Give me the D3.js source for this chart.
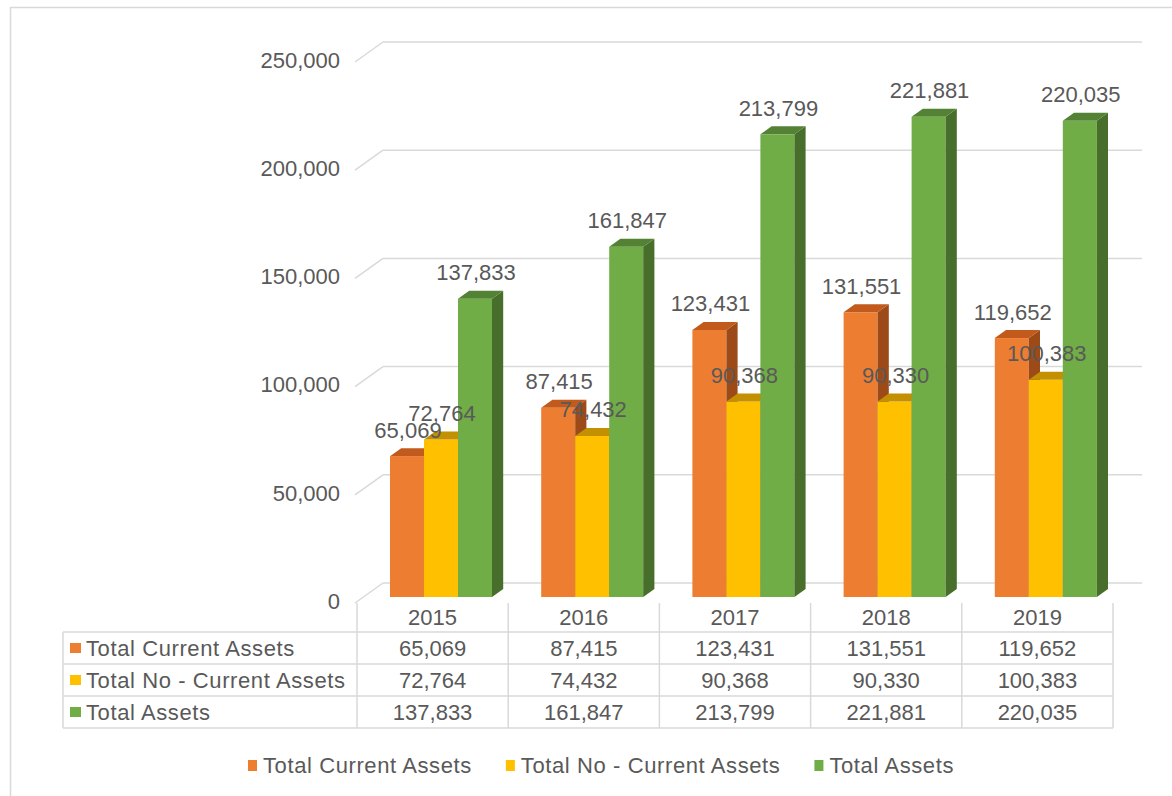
<!DOCTYPE html>
<html>
<head>
<meta charset="utf-8">
<script src="https://cdn.jsdelivr.net/npm/d3@7"></script>
<style>
  body { margin: 0; background: #fff; }
  svg text { font-family: "Liberation Sans", Arial, sans-serif; fill: #595959; }
  .name { letter-spacing: 0.6px; }
</style>
</head>
<body>
<svg id="chart"></svg>
<script>
var years = ["2015", "2016", "2017", "2018", "2019"];
var seriesNames = ["Total Current Assets", "Total No - Current Assets", "Total Assets"];
var currentAssets = [65069, 87415, 123431, 131551, 119652];
var nonCurrentAssets = [72764, 74432, 90368, 90330, 100383];
var totalAssets = [137833, 161847, 213799, 221881, 220035];
var yTicks = [0, 50000, 100000, 150000, 200000, 250000];

var seriesValues = [currentAssets, nonCurrentAssets, totalAssets];
// front, top, side
var colors = [
  ["#ED7D31", "#C25A1C", "#9C4A18"],
  ["#FFC000", "#C29000", "#A67B00"],
  ["#70AD47", "#548235", "#476E2B"]
];

var W = 1172, H = 796;
var svg = d3.select("#chart").attr("width", W).attr("height", H);

// outer frame
svg.append("rect")
  .attr("x", 10.5).attr("y", 7.5)
  .attr("width", W + 20).attr("height", H + 20)
  .attr("fill", "none").attr("stroke", "#d9d9d9").attr("stroke-width", 1.5);

var x0 = 357, x1 = 1113,        // front plane, category columns
    DX = 28, DY = -20,          // depth of the 3d box
    depthFront = 0.3, depthBar = 0.4;

var x = d3.scaleBand().domain(years).range([x0, x1]);
var y = d3.scaleLinear().domain([0, 250000]).range([603, 62]);
var fmt = d3.format(",");

var barW = 34;
var offX = DX * depthFront, offY = DY * depthFront;
var bdx = DX * depthBar, bdy = DY * depthBar;

// walls: gridlines on back wall + diagonals on left wall
var grid = svg.append("g");
yTicks.forEach(function(t) {
  grid.append("line")
    .attr("x1", x0 - 2).attr("y1", y(t))
    .attr("x2", x0 - 2 + DX).attr("y2", y(t) + DY)
    .attr("stroke", "#d9d9d9").attr("stroke-width", 1.5);
  grid.append("line")
    .attr("x1", x0 - 2 + DX).attr("y1", y(t) + DY)
    .attr("x2", x1 + 1 + DX).attr("y2", y(t) + DY)
    .attr("stroke", "#d9d9d9").attr("stroke-width", 1.5);
  svg.append("text")
    .attr("x", 340).attr("y", y(t) - 2)
    .attr("dy", "0.35em")
    .attr("text-anchor", "end")
    .style("font-size", "22px")
    .text(fmt(t));
});

// bars
var bars = svg.append("g");
var labels = [];
years.forEach(function(yr, i) {
  var groupX = x(yr) + x.bandwidth() / 2 - barW * 1.5 + offX;
  seriesValues.forEach(function(vals, s) {
    var bx = groupX + s * barW;
    var base = y(0) + offY;
    var top = y(vals[i]) + offY;
    var c = colors[s];
    bars.append("rect")
      .attr("x", bx).attr("y", top)
      .attr("width", barW).attr("height", base - top)
      .attr("fill", c[0]);
    bars.append("polygon")
      .attr("points", [[bx + barW, top], [bx + barW + bdx, top + bdy], [bx + barW + bdx, base + bdy], [bx + barW, base]].join(" "))
      .attr("fill", c[2]);
    bars.append("polygon")
      .attr("points", [[bx, top], [bx + bdx, top + bdy], [bx + barW + bdx, top + bdy], [bx + barW, top]].join(" "))
      .attr("fill", c[1]);
    labels.push({x: bx + barW / 2 + 1, y: top - 18.5, v: vals[i]});
  });
});

svg.append("g").selectAll("text")
  .data(labels)
  .enter().append("text")
  .attr("x", function(d) { return d.x; })
  .attr("y", function(d) { return d.y; })
  .attr("text-anchor", "middle")
  .style("font-size", "22px")
  .text(function(d) { return fmt(d.v); });

// data table
var tbl = svg.append("g");
var rowTop = 632, rowH = 32, tLeft = 63;
var lineStyle = function(sel) { return sel.attr("stroke", "#d9d9d9").attr("stroke-width", 1.5); };

years.forEach(function(yr) {
  tbl.append("text")
    .attr("x", x(yr) + x.bandwidth() / 2).attr("y", 617)
    .attr("dy", "0.35em").attr("text-anchor", "middle")
    .style("font-size", "22px")
    .text(yr);
});
d3.range(years.length + 1).forEach(function(k) {
  var xx = x0 + k * x.bandwidth();
  tbl.append("line").attr("x1", xx).attr("x2", xx)
    .attr("y1", 603).attr("y2", rowTop + rowH * 3).call(lineStyle);
});
tbl.append("line").attr("x1", tLeft).attr("x2", tLeft)
  .attr("y1", rowTop).attr("y2", rowTop + rowH * 3).call(lineStyle);
d3.range(4).forEach(function(r) {
  tbl.append("line").attr("x1", tLeft).attr("x2", x1)
    .attr("y1", rowTop + r * rowH).attr("y2", rowTop + r * rowH).call(lineStyle);
});
seriesNames.forEach(function(name, s) {
  var cy = rowTop + s * rowH + rowH / 2;
  tbl.append("rect").attr("x", 70).attr("y", cy - 5)
    .attr("width", 11).attr("height", 10).attr("fill", colors[s][0]);
  tbl.append("text").attr("class", "name").attr("x", 86).attr("y", cy)
    .attr("dy", "0.35em").style("font-size", "22px").text(name);
  years.forEach(function(yr, i) {
    tbl.append("text")
      .attr("x", x(yr) + x.bandwidth() / 2).attr("y", cy)
      .attr("dy", "0.35em").attr("text-anchor", "middle")
      .style("font-size", "22px")
      .text(fmt(seriesValues[s][i]));
  });
});

// legend
var legend = svg.append("g");
var items = legend.selectAll("g")
  .data(seriesNames)
  .enter().append("g");
items.append("rect")
  .attr("y", 760).attr("width", 9).attr("height", 11)
  .attr("fill", function(d, i) { return colors[i][0]; });
items.append("text")
  .attr("class", "name")
  .attr("x", 15).attr("y", 765)
  .attr("dy", "0.35em").style("font-size", "22px")
  .text(function(d) { return d; });
var widths = [];
items.each(function() { widths.push(15 + d3.select(this).select("text").node().getComputedTextLength()); });
var gap = 34;
var total = d3.sum(widths) + gap * (widths.length - 1);
var lx = 601 - total / 2;
items.attr("transform", function(d, i) {
  var t = "translate(" + lx + ",0)";
  lx += widths[i] + gap;
  return t;
});
</script>
</body>
</html>
